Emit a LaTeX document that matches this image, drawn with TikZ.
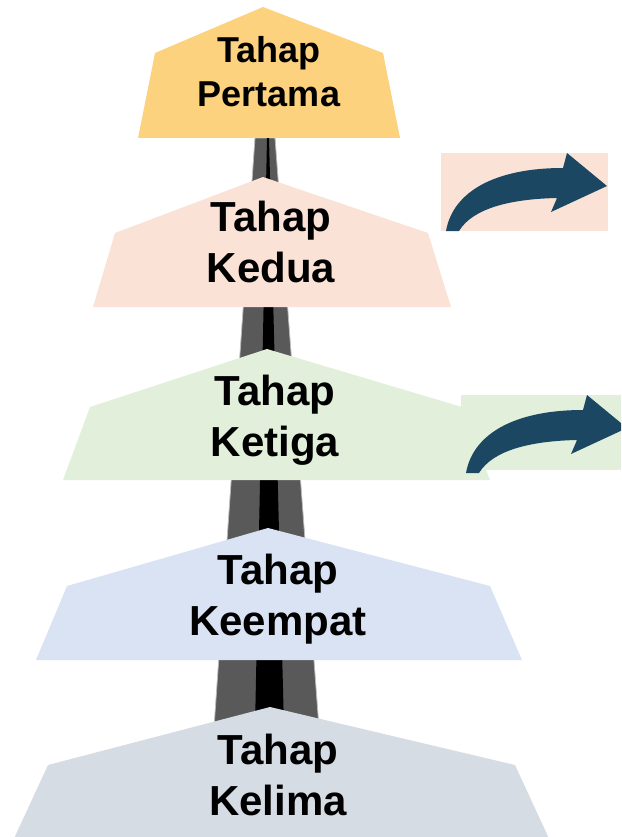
\documentclass[tikz,border=0pt]{standalone}
\usepackage{fontspec}
\setmainfont{Liberation Sans}
\definecolor{stageone}{RGB}{252,210,126}
\definecolor{stagetwo}{RGB}{250,227,214}
\definecolor{stagethree}{RGB}{226,239,218}
\definecolor{stagefour}{RGB}{218,227,243}
\definecolor{stagefive}{RGB}{214,220,228}
\definecolor{roadgrey}{RGB}{89,89,89}
\definecolor{arrowblue}{RGB}{28,71,99}
\begin{document}
\begin{tikzpicture}[x=1pt,y=-1pt,
  stagetext/.style={font=\bfseries\fontsize{42}{51}\selectfont, align=center, inner sep=0pt, anchor=base},
  toptext/.style={stagetext, font=\bfseries\fontsize{36}{44}\selectfont},
  turnarrow/.pic={
    \fill[arrowblue] (5,78) .. controls (12,38) and (55,15) .. (122,15)
      -- (126,0) -- (166,33) -- (110,59) -- (116,45)
      .. controls (70,46) and (32,55) .. (18,78) -- cycle;
  }]
\useasboundingbox (0,0) rectangle (621,837);
\clip (0,0) rectangle (621,837);

% road running down behind the stages
\fill[roadgrey, draw=gray!55, line width=0.8pt]
  (255,138) -- (275,138) -- (319,728) -- (214,728) -- cycle;
\fill[black] (267,138) -- (269,138) -- (284,728) -- (255,728) -- cycle;

% stage plates
\fill[stageone]   (263,7)   -- (383,53)  -- (400,138) -- (138,138) -- (155,53)  -- cycle;
\fill[stagetwo]   (263,177) -- (428,233) -- (451,307) -- (93,307)  -- (115,233) -- cycle;
\fill[stagethree] (267,349) -- (462,407) -- (490,480) -- (63,480)  -- (90,407)  -- cycle;
\fill[stagefour]  (268,528) -- (490,586) -- (522,660) -- (36,660)  -- (67,586)  -- cycle;
\fill[stagefive]  (270,707) -- (515,765) -- (552,845) -- (11,845)  -- (48,765)  -- cycle;

% turn arrows
\fill[stagetwo] (441,153) rectangle (608,231);
\pic at (441,153) {turnarrow};
\fill[stagethree] (461,395) rectangle (621,470);
\pic at (461,395) {turnarrow};

% stage labels (anchored on the baseline of the second line)
\node[toptext]   (s1) at (269,107) {Tahap\\Pertama};
\node[stagetext] (s2) at (271,282) {Tahap\\Kedua};
\node[stagetext] (s3) at (275,456) {Tahap\\Ketiga};
\node[stagetext] (s4) at (278,635) {Tahap\\Keempat};
\node[stagetext] (s5) at (278,815) {Tahap\\Kelima};
\end{tikzpicture}
\end{document}
